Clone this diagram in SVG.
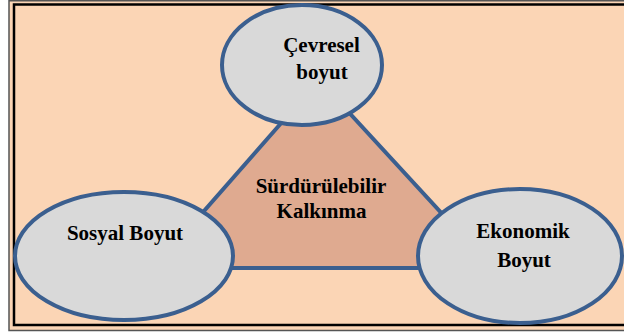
<svg xmlns="http://www.w3.org/2000/svg" width="624" height="334" viewBox="0 0 624 334">
<style>
.node ellipse{fill:#D9D9D9;stroke:#3B5F8F;stroke-width:4}
.lbl{font-family:"Liberation Serif","Times New Roman",serif;font-weight:bold;font-size:21px;fill:#000;text-anchor:middle}
</style>
<rect x="0" y="0" width="624" height="334" fill="#FFFFFF"/>
<rect x="9" y="0" width="615" height="330.5" fill="#FBD5B5"/>
<g id="frame" fill="none">
<path d="M624 0.75 H9 V330.5 H624" stroke="#555555" stroke-width="1.5"/>
<path d="M624 4.5 H14 V325 H624" stroke="#000000" stroke-width="2.5"/>
</g>
<g id="center">
<polygon points="319,80 154,268 492,268" fill="#DFAA90" stroke="#3B5F8F" stroke-width="4" stroke-linejoin="miter"/>
<text class="lbl" x="321" y="193">Sürdürülebilir</text>
<text class="lbl" x="321.5" y="218">Kalkınma</text>
</g>
<g id="cevresel" class="node">
<ellipse cx="302" cy="65" rx="80" ry="60"/>
<text class="lbl" x="321.5" y="52">Çevresel</text>
<text class="lbl" x="322" y="79">boyut</text>
</g>
<g id="sosyal" class="node">
<ellipse cx="124" cy="256" rx="109" ry="64"/>
<text class="lbl" x="125" y="240">Sosyal Boyut</text>
</g>
<g id="ekonomik" class="node">
<ellipse cx="520" cy="256" rx="102" ry="67"/>
<text class="lbl" x="523" y="238">Ekonomik</text>
<text class="lbl" x="524" y="267">Boyut</text>
</g>
</svg>
